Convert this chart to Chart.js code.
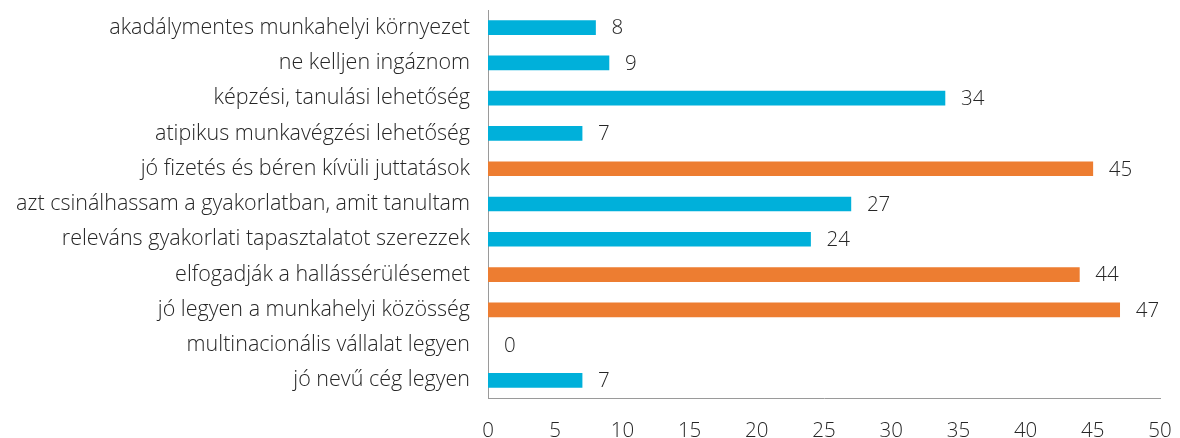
<!DOCTYPE html>
<html>
<head>
<meta charset="utf-8">
<script src="https://cdn.jsdelivr.net/npm/chart.js@4"></script>
<style>
  html, body { margin: 0; padding: 0; background: #fff; }
  #wrap { width: 1180px; height: 438px; }
</style>
</head>
<body>
<div id="wrap"><canvas id="chart"></canvas></div>
<script>
//chart data
const categories = [
    "akadálymentes munkahelyi környezet",
    "ne kelljen ingáznom",
    "képzési, tanulási lehetőség",
    "atipikus munkavégzési lehetőség",
    "jó fizetés és béren kívüli juttatások",
    "azt csinálhassam a gyakorlatban, amit tanultam",
    "releváns gyakorlati tapasztalatot szerezzek",
    "elfogadják a hallássérülésemet",
    "jó legyen a munkahelyi közösség",
    "multinacionális vállalat legyen",
    "jó nevű cég legyen"
];
const values = [8, 9, 34, 7, 45, 27, 24, 44, 47, 0, 7];
const highlighted = [false, false, false, false, true, false, false, true, true, false, false];

const blue = '#00b0da';
const orange = '#ed7d31';
const textColor = '#262626';
const fontFamily = "'Open Sans', sans-serif";

/**
 * draws the value next to the end of each bar
 */
const valueLabels = {
    id: 'valueLabels',
    afterDatasetsDraw(chart) {
        const c = chart.ctx;
        const meta = chart.getDatasetMeta(0);
        c.save();
        c.font = '300 20.5px ' + fontFamily;
        c.fillStyle = textColor;
        c.textAlign = 'left';
        c.textBaseline = 'middle';
        meta.data.forEach((bar, i) => {
            c.fillText(String(values[i]), bar.x + 16, bar.y + 1);
        });
        c.restore();
    }
};

//bar colours, a zero value gets no visible bar
const barColors = values.map((v, i) => v === 0 ? 'rgba(0,0,0,0)' : (highlighted[i] ? orange : blue));

const ctx = document.getElementById('chart').getContext('2d');
new Chart(ctx, {
    type: 'bar',
    data: {
        labels: categories,
        datasets: [{
            data: values,
            backgroundColor: barColors,
            barThickness: 14,
            borderWidth: 0
        }]
    },
    options: {
        indexAxis: 'y',
        responsive: true,
        maintainAspectRatio: false,
        animation: false,
        layout: { padding: { top: 10, right: 20, left: 0, bottom: 0 } },
        plugins: {
            legend: { display: false },
            tooltip: { enabled: false }
        },
        scales: {
            x: {
                min: 0,
                max: 50,
                ticks: {
                    stepSize: 5,
                    color: textColor,
                    padding: 21,
                    font: { family: fontFamily, size: 20.5, weight: 300 }
                },
                grid: { display: false, drawTicks: false },
                border: { color: '#9a9a9a', width: 1 },
                afterFit: (s) => { s.height = 40; s.paddingLeft = 0; s.paddingRight = 0; }
            },
            y: {
                ticks: {
                    color: textColor,
                    padding: 18,
                    autoSkip: false,
                    font: { family: fontFamily, size: 21.5, weight: 300 }
                },
                grid: { display: false, drawTicks: false },
                border: { color: '#9a9a9a', width: 1 },
                afterFit: (s) => { s.width = 488; s.paddingTop = 0; s.paddingBottom = 0; }
            }
        }
    },
    plugins: [valueLabels]
});
</script>
</body>
</html>
